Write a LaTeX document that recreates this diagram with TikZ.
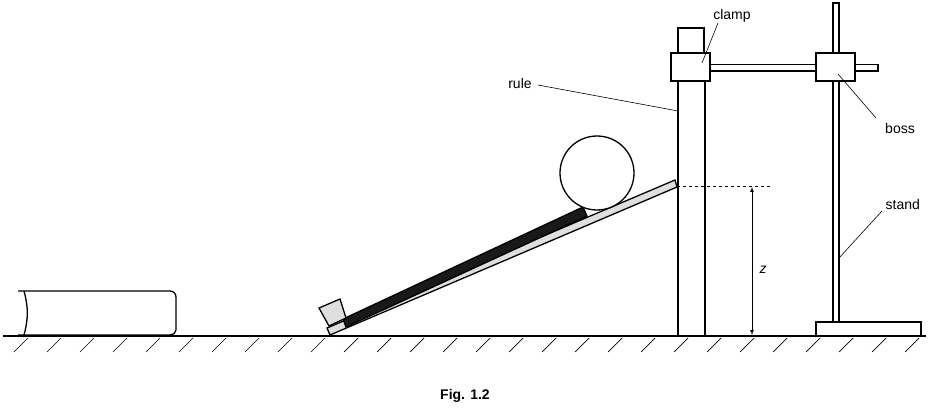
\documentclass[tikz,border=0pt]{standalone}
\usepackage{fontspec}
\setmainfont{Liberation Sans}
\begin{document}
\begin{tikzpicture}[x=1pt,y=-1pt,line width=1.3pt,
  lbl/.style={font=\fontsize{14}{16}\selectfont,inner sep=1pt},
  lead/.style={line width=0.6pt}]
\useasboundingbox (0,0) rectangle (929,414);
% ground
\draw (3,336) -- (926,336);
\foreach \i in {0,...,27} \draw[line width=0.7pt] ({28+33*\i},338) -- ({14+33*\i},352);
% cylinder
\draw (18,291) -- (170,291) to[out=0,in=90] (176,297) -- (176,330) to[out=-90,in=0] (170,335) -- (18,335);
\draw (24,291) to[bend left=15] (24,335);
% ramp board
\draw[fill=gray!25] (330,335) -- (677,187) -- (675,180) -- (327,328) -- cycle;
% black strip
\draw[fill=black!90] (343,319) -- (583,207) -- (587,216) -- (346,327) -- cycle;
% block
\draw[fill=gray!25] (319,308) -- (340,299) -- (346,318) -- (329,326) -- cycle;
% ball
\draw[fill=white] (597,173) circle (37);
% rule
\draw (678,336) -- (678,80) (705,336) -- (705,80);
\draw (678,54) rectangle (704,28);
\node[draw,minimum width=0pt,inner sep=0pt] (clamp) at (690.5,67) {};
\draw[fill=white] (671,53) rectangle (710,81);
\draw (710,64.5) rectangle (878,71);
% stand
\draw (833,3) rectangle (839,322);
\draw[fill=white] (816,53) rectangle (855,81);
\draw (816,322) rectangle (921,336);
% z
\draw[dashed,line width=0.6pt] (677,186) -- (770,186);
\draw[line width=0.7pt,-latex] (752,290) -- (752,187);
\draw[line width=0.7pt,-latex] (752,280) -- (752,335);
\node[lbl,fill=white,font=\fontsize{14}{16}\selectfont\itshape] (z) at (763,270) {z};
% labels
\node[lbl] (rule) at (520,83) {rule};
\draw[lead] (538,85) -- (678,111);
\node[lbl] (cl) at (732,16) {clamp};
\draw[lead] (718,23) -- (702,63);
\node[lbl] (boss) at (900,128) {boss};
\draw[lead] (876,118) -- (838,74);
\node[lbl,anchor=west] (stand) at (884,204) {stand};
\draw[lead] (882,211) -- (839,258);
\node[font=\bfseries\fontsize{14}{16}\selectfont] (fig) at (465,396) {Fig. 1.2};
\end{tikzpicture}
\end{document}
